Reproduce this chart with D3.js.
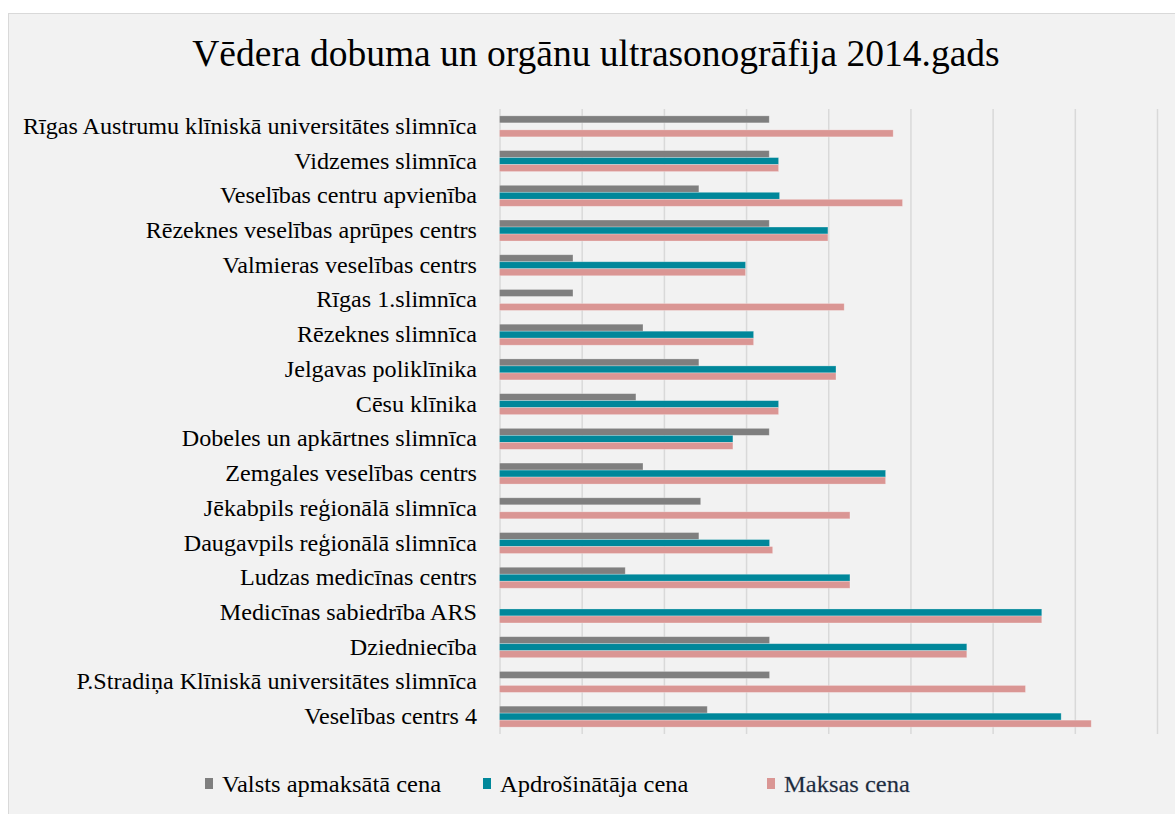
<!DOCTYPE html>
<html>
<head>
<meta charset="utf-8">
<script src="https://cdn.jsdelivr.net/npm/d3@7"></script>
<style>
  html, body { margin: 0; padding: 0; background: #ffffff; }
  svg { display: block; }
</style>
</head>
<body>
<svg id="chart" width="1175" height="814"></svg>
<script>
const title = "Vēdera dobuma un orgānu ultrasonogrāfija 2014.gads";
const categories = [
  "Rīgas Austrumu klīniskā universitātes slimnīca",
  "Vidzemes slimnīca",
  "Veselības centru apvienība",
  "Rēzeknes veselības aprūpes centrs",
  "Valmieras veselības centrs",
  "Rīgas 1.slimnīca",
  "Rēzeknes slimnīca",
  "Jelgavas poliklīnika",
  "Cēsu klīnika",
  "Dobeles un apkārtnes slimnīca",
  "Zemgales veselības centrs",
  "Jēkabpils reģionālā slimnīca",
  "Daugavpils reģionālā slimnīca",
  "Ludzas medicīnas centrs",
  "Medicīnas sabiedrība ARS",
  "Dziedniecība",
  "P.Stradiņa Klīniskā universitātes slimnīca",
  "Veselības centrs 4"
];
const seriesNames = ["Valsts apmaksātā cena", "Apdrošinātāja cena", "Maksas cena"];
const valstsCena = [16.41, 16.41, 12.13, 16.41, 4.47, 4.47, 8.73, 12.13, 8.30, 16.41, 8.73, 12.24, 12.13, 7.65, null, 16.43, 16.43, 12.64];
const apdrosinatajaCena = [null, 16.98, 17.04, 19.98, 14.97, null, 15.46, 20.47, 16.98, 14.20, 23.49, null, 16.43, 21.32, 32.99, 28.43, null, 34.17];
const maksasCena = [23.95, 16.98, 24.52, 19.98, 14.97, 20.97, 15.46, 20.47, 16.98, 14.20, 23.49, 21.32, 16.62, 21.32, 32.99, 28.43, 32.00, 36.00];
const xTicks = [0, 5, 10, 15, 20, 25, 30, 35, 40];

const colors = ["#7f7f7f", "#00879a", "#da9694"];
const seriesValues = [valstsCena, apdrosinatajaCena, maksasCena];

const svg = d3.select("#chart");
const W = 1175, H = 814;
const serif = "'Liberation Serif', 'Times New Roman', serif";
const labelStretch = 1.072;
const legendStretch = 1.09;

// chart frame
svg.append("rect")
  .attr("x", 8.5).attr("y", 13.5)
  .attr("width", W + 10).attr("height", H + 10)
  .attr("fill", "#f2f2f2").attr("stroke", "#d9d9d9").attr("stroke-width", 1);

const plot = { left: 499.5, right: 1157, top: 109, bottom: 734 };

const x = d3.scaleLinear().domain([0, 40]).range([plot.left, plot.right]);
const y = d3.scaleBand().domain(categories).range([plot.top, plot.bottom]).paddingInner(0.395).paddingOuter(0.1975);
const sub = d3.scaleBand().domain(d3.range(3)).range([0, y.bandwidth()]);

// gridlines via axis
const gridAxis = d3.axisBottom(x).tickValues(xTicks).tickSize(-(plot.bottom - plot.top)).tickFormat("");
const g = svg.append("g").attr("transform", `translate(0,${plot.bottom})`).call(gridAxis);
g.select(".domain").remove();
g.selectAll(".tick line").attr("stroke", "#d9d9d9").attr("stroke-width", 1.5);

// bars
seriesValues.forEach((vals, si) => {
  svg.append("g").selectAll("rect")
    .data(categories.map((c, i) => ({ c, v: vals[i] })).filter(d => d.v != null))
    .join("rect")
    .attr("x", x(0))
    .attr("y", d => y(d.c) + sub(si))
    .attr("width", d => x(d.v) - x(0))
    .attr("height", sub.bandwidth())
    .attr("fill", colors[si])
    .attr("stroke", "#ffffff").attr("stroke-opacity", 0.35).attr("stroke-width", 0.75);
});

// category labels
svg.append("g").selectAll("text")
  .data(categories)
  .join("text")
  .attr("transform", d => `translate(477,${y(d) + y.bandwidth() / 2 + 7.5}) scale(${labelStretch},1)`)
  .attr("text-anchor", "end")
  .attr("font-family", serif)
  .attr("font-size", 22.5).attr("fill", "#000")
  .text(d => d);

// title
svg.append("text")
  .attr("x", 596).attr("y", 66)
  .attr("text-anchor", "middle")
  .attr("font-family", serif)
  .attr("font-size", 37.5).attr("fill", "#000")
  .text(title);

// legend
const legendX = [205, 483, 767];
const lg = svg.append("g");
seriesNames.forEach((n, i) => {
  lg.append("rect").attr("x", legendX[i]).attr("y", 778).attr("width", 8).attr("height", 11).attr("fill", colors[i]);
  const t = lg.append("text")
    .attr("transform", `translate(${legendX[i] + 17},792) scale(${legendStretch},1)`)
    .attr("font-family", serif)
    .attr("font-size", 22.5).attr("fill", i === 2 ? "#1c2a3a" : "#000")
    .text(n);
  if (i === 2) t.attr("stroke", "#3a4a66").attr("stroke-width", 0.35).attr("stroke-opacity", 0.6);
});
</script>
</body>
</html>
